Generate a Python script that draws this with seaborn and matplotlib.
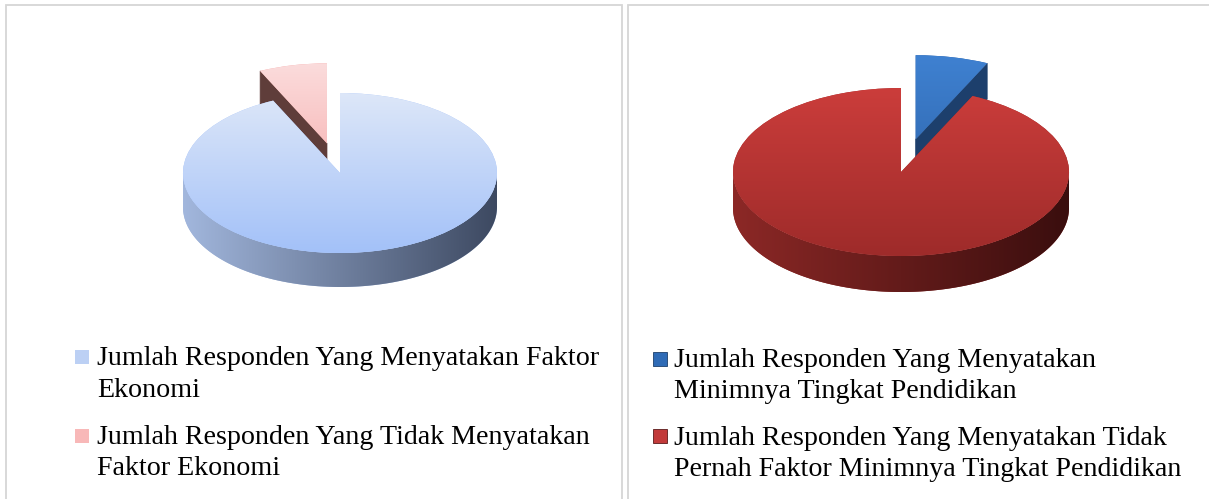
import numpy as np
import seaborn as sns
import matplotlib.pyplot as plt
from matplotlib.colors import LinearSegmentedColormap
from matplotlib.patches import Polygon, Rectangle

# Data
left_labels = ["Jumlah Responden Yang Menyatakan Faktor\nEkonomi",
               "Jumlah Responden Yang Tidak Menyatakan\nFaktor Ekonomi"]
left_values = [93, 7]
left_explode = [0, 0.38]

right_labels = ["Jumlah Responden Yang Menyatakan\nMinimnya Tingkat Pendidikan",
                "Jumlah Responden Yang Menyatakan Tidak\nPernah Faktor Minimnya Tingkat Pendidikan"]
right_values = [7, 93]
right_explode = [0.4, 0]

# (top light, top dark, side light, side dark, cut face, legend)
left_colors = [("#dde7f8", "#a3c1f9", "#a2b7dd", "#3d4961", "#4a5873", "#bcd0f4"),
               ("#fbdcdc", "#f6a3a3", "#7a4a48", "#4e302e", "#5f3d3a", "#f8b8b8")]
right_colors = [("#3f81d1", "#2b60a5", "#2c5a94", "#173a66", "#1d3f6c", "#2f6bb6"),
                ("#cb3d3b", "#9e2b2a", "#8c2826", "#3a0e0e", "#5a1a1a", "#c23a3a")]

sns.set_theme(style="white")
plt.rcParams['font.family'] = ['Liberation Serif', 'DejaVu Serif']

W, H = 1209, 499
fig = plt.figure(figsize=(W / 100, H / 100), dpi=100)


def gradient(ax, patch, extent, c0, c1, horizontal, z):
    cmap = LinearSegmentedColormap.from_list("g", [c0, c1])
    g = np.linspace(0, 1, 256)
    arr = g[None, :] if horizontal else g[:, None]
    im = ax.imshow(arr, extent=extent, origin="lower", cmap=cmap,
                   aspect="auto", zorder=z, interpolation="bilinear")
    im.set_clip_path(patch)


def pie3d(cx, cy, rx, ry, depth_px, values, explode, colors):
    hx, hy = 1.45, 1.75
    ax = fig.add_axes([(cx - hx * rx) / W, (H - cy - hy * ry) / H,
                       2 * hx * rx / W, 2 * hy * ry / H])
    wedges, _ = ax.pie(values, explode=explode, startangle=90, counterclock=False,
                       wedgeprops=dict(linewidth=0))
    d = depth_px / ry
    order = sorted(range(len(wedges)), key=lambda i: -wedges[i].center[1])
    z = 1
    for i in order:
        w = wedges[i]
        top_l, top_d, side_l, side_d, cut, _ = colors[i]
        x0, y0 = w.center
        t1, t2 = w.theta1, w.theta2
        # visible cut faces
        for t, nrm in ((t1, t1 - 90), (t2, t2 + 90)):
            if np.sin(np.radians(nrm)) < -0.05:
                tr = np.radians(t)
                pts = [(x0, y0), (x0 + np.cos(tr), y0 + np.sin(tr)),
                       (x0 + np.cos(tr), y0 + np.sin(tr) - d), (x0, y0 - d)]
                ax.add_patch(Polygon(pts, closed=True, facecolor=cut,
                                     edgecolor=cut, lw=0.5, zorder=z))
                z += 1
        # curved front side
        ts = np.radians(np.linspace(t1, t2, 600))
        mask = np.sin(ts) <= 0
        if mask.any():
            idx = np.where(mask)[0]
            runs = np.split(idx, np.where(np.diff(idx) > 1)[0] + 1)
            for r in runs:
                tt = ts[r]
                xs = x0 + np.cos(tt)
                ys = y0 + np.sin(tt)
                pts = np.vstack([np.column_stack([xs, ys]),
                                 np.column_stack([xs[::-1], ys[::-1] - d])])
                side = Polygon(pts, closed=True, facecolor=side_l,
                               edgecolor="none", zorder=z)
                ax.add_patch(side)
                z += 1
                gradient(ax, side, [x0 - 1, x0 + 1, y0 - 1 - d, y0],
                         side_l, side_d, True, z)
                z += 1
        # top face
        w.set_facecolor(top_d)
        w.set_zorder(z)
        z += 1
        gradient(ax, w, [x0 - 1, x0 + 1, y0 - 1, y0 + 1],
                 top_d, top_l, False, z)
        z += 1
    ax.set_aspect("auto")
    ax.set_xlim(-hx, hx)
    ax.set_ylim(-hy, hy)
    ax.axis("off")


def legend(x_sq, x_txt, items, labels, colors):
    for (y_sq, baselines), lab, col in zip(items, labels, colors):
        fig.patches.append(Rectangle((x_sq / W, 1 - (y_sq + 14) / H), 14 / W, 14 / H,
                                     transform=fig.transFigure, facecolor=col[5],
                                     edgecolor=col[4] if x_sq > 600 else "none",
                                     lw=0.6))
        for line, yb in zip(lab.split("\n"), baselines):
            fig.text(x_txt / W, 1 - yb / H, line, fontsize=20.2, va="baseline",
                     ha="left", color="black")


# panel frames
fig.patches.append(Rectangle((6 / W, -0.1), 616 / W, 1.1 - 5.5 / H,
                             transform=fig.transFigure, facecolor="none",
                             edgecolor="#d6d6d6", lw=1.3))
fig.patches.append(Rectangle((627.5 / W, -0.1), 0.6, 1.1 - 5.5 / H,
                             transform=fig.transFigure, facecolor="none",
                             edgecolor="#d6d6d6", lw=1.3))

pie3d(340, 173, 157, 80, 34, left_values, left_explode, left_colors)
pie3d(901, 172, 168, 84, 36, right_values, right_explode, right_colors)

legend(75, 97, [(350, (365, 397)), (429, (444, 475))], left_labels, left_colors)
legend(653, 674, [(352, (367, 398)), (429, (445, 476))], right_labels, right_colors)

plt.savefig("out.png", dpi=100)
